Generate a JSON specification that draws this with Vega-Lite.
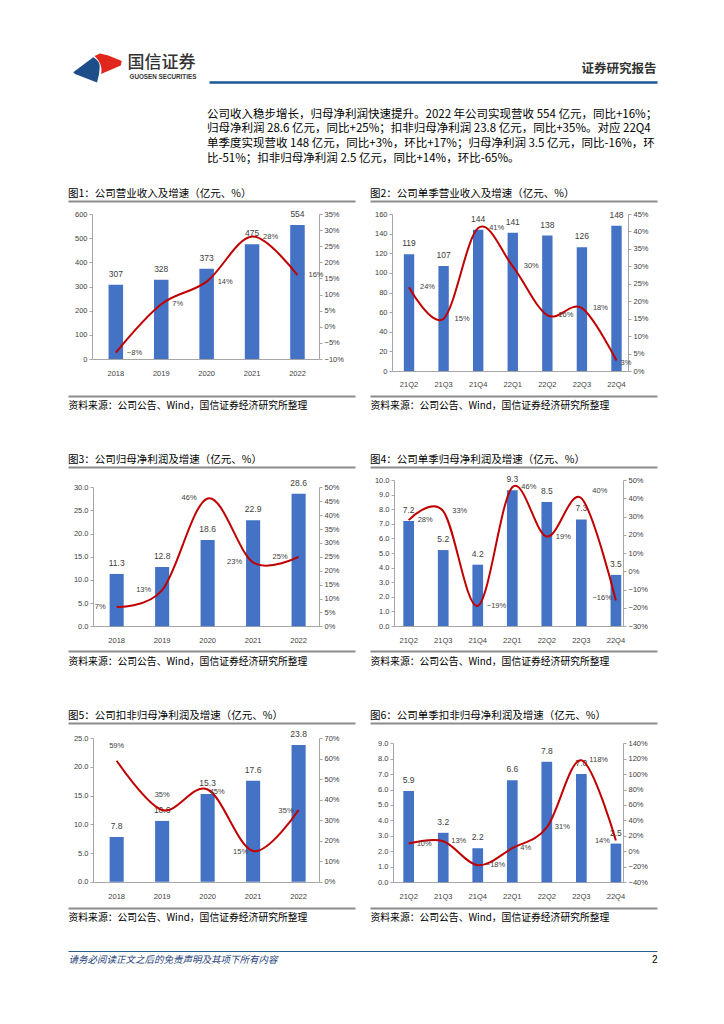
{
  "$schema": "https://vega.github.io/schema/vega-lite/v6.json",
  "padding": {"left": 68, "top": 53, "right": 10, "bottom": 10},
  "background": "white",
  "spacing": 25,
  "config": {
    "view": {"stroke": null},
    "font": "Noto Sans CJK SC",
    "axis": {"labelFont": "Liberation Sans", "labelFontSize": 7.5, "labelColor": "#404040", "domainColor": "#a6a6a6", "tickColor": "#a6a6a6", "tickSize": 3, "labelPadding": 2, "grid": false, "titleFont": "Noto Sans CJK SC", "titleFontWeight": "normal", "titleColor": "#000"},
    "title": {"anchor": "start", "font": "Noto Sans CJK SC", "fontWeight": "normal", "color": "#000", "fontSize": 10.5},
    "text": {"font": "Liberation Sans", "fontSize": 7.5, "color": "#404040"},
    "bar": {"color": "#4472C4"},
    "line": {"color": "#C00000", "strokeWidth": 2, "interpolate": "cardinal"}
  },
  "vconcat": [
    {
      "spacing": 0,
      "hconcat": [
        {
          "width": 59, "height": 30,
          "data": {"values": [{"brand": "国信证券"}]},
          "layer": [
            {"mark": {"type": "point", "shape": "M-0.97,0.17L-0.17,-0.43C0.05,-0.3 0.12,-0.15 0.08,0.05L0.06,0.25L-0.02,0.58L-0.38,0.44L-0.9,0.24Z", "filled": true, "color": "#1d4e89", "size": 2500, "opacity": 1, "strokeWidth": 0},
             "encoding": {"x": {"field": "brand", "type": "nominal", "axis": null}, "y": {"field": "brand", "type": "nominal", "axis": null}}},
            {"mark": {"type": "point", "shape": "M-0.12,-0.48L0.1,-0.58L0.43,-0.5L0.63,-0.42L0.97,-0.28L0.93,-0.1L0.63,0.03L0.3,0.17L0.14,0.24C0.2,0.02 0.14,-0.24 -0.12,-0.48Z", "filled": true, "color": "#e1261c", "size": 2500, "opacity": 1, "strokeWidth": 0},
             "encoding": {"x": {"field": "brand", "type": "nominal", "axis": null}, "y": {"field": "brand", "type": "nominal", "axis": null}}}
          ]
        },
        {
          "width": 448, "height": 29,
          "data": {"values": [{"brand": "国信证券", "report": "证券研究报告"}]},
          "layer": [
            {"mark": {"type": "point", "opacity": 0}, "encoding": {
              "x": {"field": "report", "type": "nominal", "axis": {"orient": "bottom", "domainColor": "#1b5695", "domainWidth": 2.5, "labels": false, "ticks": false, "title": "证券研究报告", "titleX": 447, "titleY": -14, "titleAlign": "right", "titleBaseline": "middle", "titleFontSize": 12.5, "titleFontWeight": "bold", "titleColor": "#333"}},
              "y": {"field": "brand", "type": "nominal", "axis": {"orient": "left", "domain": false, "labels": false, "ticks": false, "title": "国信证券", "titleAngle": 0, "titleX": -82, "titleY": 9, "titleAlign": "left", "titleBaseline": "middle", "titleFontSize": 17, "titleFontWeight": 500, "titleColor": "#333"}}}},
            {"mark": {"type": "point", "opacity": 0}, "encoding": {
              "x": {"field": "report", "type": "nominal", "axis": null},
              "y": {"field": "brand", "type": "nominal", "axis": {"orient": "right", "domain": false, "labels": false, "ticks": false, "title": "GUOSEN SECURITIES", "titleAngle": 0, "titleX": -528, "titleY": 23, "titleAlign": "left", "titleBaseline": "middle", "titleFont": "Liberation Sans", "titleFontSize": 6.3, "titleFontWeight": "bold", "titleColor": "#333"}}}}
          ],
          "resolve": {"axis": {"x": "independent", "y": "independent"}}
        }
      ]
    },
    {
      "spacing": 44,
      "vconcat": [
        {
          "title": {"text": ["公司收入稳步增长，归母净利润快速提升。2022 年公司实现营收 554 亿元，同比+16%；", "归母净利润 28.6 亿元，同比+25%；扣非归母净利润 23.8 亿元，同比+35%。对应 22Q4", "单季度实现营收 148 亿元，同比+3%，环比+17%；归母净利润 3.5 亿元，同比-16%，环", "比-51%；扣非归母净利润 2.5 亿元，同比+14%，环比-65%。"], "fontSize": 11.5, "lineHeight": 14.8, "dx": 139, "offset": 24},
          "spacing": 15,
          "hconcat": [
            {
              "width": 287, "height": 195,
              "title": {"text": "图1：公司营业收入及增速（亿元、%）", "frame": "bounds", "offset": 2},
              "data": {"values": [
                {"q": "2018", "v": 307, "g": -0.08}, {"q": "2019", "v": 328, "g": 0.07}, {"q": "2020", "v": 373, "g": 0.14}, {"q": "2021", "v": 475, "g": 0.28}, {"q": "2022", "v": 554, "g": 0.16}]},
              "layer": [
                {"mark": {"type": "bar"}, "encoding": {
                  "x": {"field": "q", "type": "ordinal", "scale": {"domain": ["2018", "2019", "2020", "2021", "2022"], "paddingInner": 0.68, "paddingOuter": 1.0467, "align": 0.4466},
                    "axis": {"orient": "bottom", "domainColor": "#8c8c8c", "domainWidth": 2, "ticks": false, "labelPadding": -26.5, "labelAngle": 0, "title": "资料来源：公司公告、Wind，国信证券经济研究所整理", "titleAnchor": "start", "titleAlign": "left", "titlePadding": 4, "titleFontSize": 9.8}},
                  "y": {"field": "v", "type": "quantitative", "scale": {"domain": [0, 600], "range": [158, 13], "nice": false},
                    "axis": {"orient": "left", "offset": -24, "values": [0], "grid": true, "gridColor": "#a6a6a6", "gridWidth": 1, "gridDash": [0, 24, 227, 2000], "domain": false, "labels": false, "ticks": false, "title": null}}}},
                {"mark": {"type": "text", "baseline": "alphabetic", "dy": -8, "fontSize": 8.5}, "encoding": {
                  "x": {"field": "q", "type": "ordinal", "scale": {"domain": ["2018", "2019", "2020", "2021", "2022"], "paddingInner": 0.68, "paddingOuter": 1.0467, "align": 0.4466}, "axis": {"orient": "top", "domainColor": "#8c8c8c", "domainWidth": 2, "labels": false, "ticks": false, "title": null}},
                  "y": {"field": "v", "type": "quantitative", "scale": {"domain": [0, 600], "range": [158, 13], "nice": false}, "axis": {"orient": "left", "offset": -24, "values": [0, 100, 200, 300, 400, 500, 600], "format": "d", "title": null}},
                  "text": {"field": "v", "type": "quantitative", "format": "d"}}},
                {"mark": {"type": "line"}, "encoding": {
                  "x": {"field": "q", "type": "ordinal", "scale": {"domain": ["2018", "2019", "2020", "2021", "2022"], "paddingInner": 0.68, "paddingOuter": 1.0467, "align": 0.4466}, "axis": null},
                  "y": {"field": "g", "type": "quantitative", "scale": {"domain": [-0.1, 0.35], "range": [158, 13], "nice": false}, "axis": {"orient": "right", "offset": -36, "values": [-0.1, -0.05, 0, 0.05, 0.1, 0.15, 0.2, 0.25, 0.3, 0.35], "format": ".0%", "title": null}}}},
                {"mark": {"type": "text", "align": "left", "baseline": "middle", "dx": 11}, "encoding": {
                  "x": {"field": "q", "type": "ordinal", "scale": {"domain": ["2018", "2019", "2020", "2021", "2022"], "paddingInner": 0.68, "paddingOuter": 1.0467, "align": 0.4466}, "axis": null},
                  "y": {"field": "g", "type": "quantitative", "scale": {"domain": [-0.1, 0.35], "range": [158, 13], "nice": false}, "axis": null},
                  "text": {"field": "g", "type": "quantitative", "format": ".0%"}}}
              ],
              "resolve": {"scale": {"y": "independent"}, "axis": {"x": "independent", "y": "independent"}}
            },
            {
              "width": 287, "height": 195,
              "title": {"text": "图2：公司单季营业收入及增速（亿元、%）", "frame": "bounds", "offset": 2},
              "data": {"values": [
                {"q": "21Q2", "v": 119, "g": 0.24}, {"q": "21Q3", "v": 107, "g": 0.15}, {"q": "21Q4", "v": 144, "g": 0.41}, {"q": "22Q1", "v": 141, "g": 0.30}, {"q": "22Q2", "v": 138, "g": 0.16}, {"q": "22Q3", "v": 126, "g": 0.18}, {"q": "22Q4", "v": 148, "g": 0.03}]},
              "layer": [
                {"mark": {"type": "bar"}, "encoding": {
                  "x": {"field": "q", "type": "ordinal", "scale": {"domain": ["21Q2", "21Q3", "21Q4", "22Q1", "22Q2", "22Q3", "22Q4"], "paddingInner": 0.7, "paddingOuter": 1.1828, "align": 0.4893},
                    "axis": {"orient": "bottom", "domainColor": "#8c8c8c", "domainWidth": 2, "ticks": false, "labelPadding": -15.5, "labelAngle": 0, "title": "资料来源：公司公告、Wind，国信证券经济研究所整理", "titleAnchor": "start", "titleAlign": "left", "titlePadding": 4, "titleFontSize": 9.8}},
                  "y": {"field": "v", "type": "quantitative", "scale": {"domain": [0, 160], "range": [170, 13], "nice": false},
                    "axis": {"orient": "left", "offset": -22, "values": [0], "grid": true, "gridColor": "#a6a6a6", "gridWidth": 1, "gridDash": [0, 22, 236, 2000], "domain": false, "labels": false, "ticks": false, "title": null}}}},
                {"mark": {"type": "text", "baseline": "alphabetic", "dy": -8, "fontSize": 8.5}, "encoding": {
                  "x": {"field": "q", "type": "ordinal", "scale": {"domain": ["21Q2", "21Q3", "21Q4", "22Q1", "22Q2", "22Q3", "22Q4"], "paddingInner": 0.7, "paddingOuter": 1.1828, "align": 0.4893}, "axis": {"orient": "top", "domainColor": "#8c8c8c", "domainWidth": 2, "labels": false, "ticks": false, "title": null}},
                  "y": {"field": "v", "type": "quantitative", "scale": {"domain": [0, 160], "range": [170, 13], "nice": false}, "axis": {"orient": "left", "offset": -22, "values": [0, 20, 40, 60, 80, 100, 120, 140, 160], "format": "d", "title": null}},
                  "text": {"field": "v", "type": "quantitative", "format": "d"}}},
                {"mark": {"type": "line"}, "encoding": {
                  "x": {"field": "q", "type": "ordinal", "scale": {"domain": ["21Q2", "21Q3", "21Q4", "22Q1", "22Q2", "22Q3", "22Q4"], "paddingInner": 0.7, "paddingOuter": 1.1828, "align": 0.4893}, "axis": null},
                  "y": {"field": "g", "type": "quantitative", "scale": {"domain": [0, 0.45], "range": [170, 13], "nice": false}, "axis": {"orient": "right", "offset": -29, "values": [0, 0.05, 0.1, 0.15, 0.2, 0.25, 0.3, 0.35, 0.4, 0.45], "format": ".0%", "title": null}}}},
                {"transform": [{"filter": "datum.q != '22Q4'"}], "mark": {"type": "text", "align": "left", "baseline": "middle", "dx": 11}, "encoding": {
                  "x": {"field": "q", "type": "ordinal", "scale": {"domain": ["21Q2", "21Q3", "21Q4", "22Q1", "22Q2", "22Q3", "22Q4"], "paddingInner": 0.7, "paddingOuter": 1.1828, "align": 0.4893}, "axis": null},
                  "y": {"field": "g", "type": "quantitative", "scale": {"domain": [0, 0.45], "range": [170, 13], "nice": false}, "axis": null},
                  "text": {"field": "g", "type": "quantitative", "format": ".0%"}}},
                {"transform": [{"filter": "datum.q == '22Q4'"}], "mark": {"type": "text", "align": "left", "baseline": "middle", "dx": 4, "dy": 2}, "encoding": {
                  "x": {"field": "q", "type": "ordinal", "scale": {"domain": ["21Q2", "21Q3", "21Q4", "22Q1", "22Q2", "22Q3", "22Q4"], "paddingInner": 0.7, "paddingOuter": 1.1828, "align": 0.4893}, "axis": null},
                  "y": {"field": "g", "type": "quantitative", "scale": {"domain": [0, 0.45], "range": [170, 13], "nice": false}, "axis": null},
                  "text": {"field": "g", "type": "quantitative", "format": ".0%"}}}
              ],
              "resolve": {"scale": {"y": "independent"}, "axis": {"x": "independent", "y": "independent"}}
            }
          ]
        },
        {
          "spacing": 15,
          "hconcat": [
            {
              "width": 287, "height": 184,
              "title": {"text": "图3：公司归母净利润及增速（亿元、%）", "frame": "bounds", "offset": 2},
              "data": {"values": [
                {"q": "2018", "v": 11.3, "g": 0.07}, {"q": "2019", "v": 12.8, "g": 0.13}, {"q": "2020", "v": 18.6, "g": 0.46}, {"q": "2021", "v": 22.9, "g": 0.23}, {"q": "2022", "v": 28.6, "g": 0.25}]},
              "layer": [
                {"mark": {"type": "bar"}, "encoding": {
                  "x": {"field": "q", "type": "ordinal", "scale": {"domain": ["2018", "2019", "2020", "2021", "2022"], "paddingInner": 0.69, "paddingOuter": 1.0517, "align": 0.4575},
                    "axis": {"orient": "bottom", "domainColor": "#8c8c8c", "domainWidth": 2, "ticks": false, "labelPadding": -14.5, "labelAngle": 0, "title": "资料来源：公司公告、Wind，国信证券经济研究所整理", "titleAnchor": "start", "titleAlign": "left", "titlePadding": 5, "titleFontSize": 9.8}},
                  "y": {"field": "v", "type": "quantitative", "scale": {"domain": [0, 30], "range": [159.3, 20.3], "nice": false},
                    "axis": {"orient": "left", "offset": -25, "values": [0], "grid": true, "gridColor": "#a6a6a6", "gridWidth": 1, "gridDash": [0, 25, 226, 2000], "domain": false, "labels": false, "ticks": false, "title": null}}}},
                {"mark": {"type": "text", "baseline": "alphabetic", "dy": -8, "fontSize": 8.5}, "encoding": {
                  "x": {"field": "q", "type": "ordinal", "scale": {"domain": ["2018", "2019", "2020", "2021", "2022"], "paddingInner": 0.69, "paddingOuter": 1.0517, "align": 0.4575}, "axis": {"orient": "top", "domainColor": "#8c8c8c", "domainWidth": 2, "labels": false, "ticks": false, "title": null}},
                  "y": {"field": "v", "type": "quantitative", "scale": {"domain": [0, 30], "range": [159.3, 20.3], "nice": false}, "axis": {"orient": "left", "offset": -25, "values": [0, 5, 10, 15, 20, 25, 30], "format": ".1f", "title": null}},
                  "text": {"field": "v", "type": "quantitative", "format": ".1f"}}},
                {"mark": {"type": "line"}, "encoding": {
                  "x": {"field": "q", "type": "ordinal", "scale": {"domain": ["2018", "2019", "2020", "2021", "2022"], "paddingInner": 0.69, "paddingOuter": 1.0517, "align": 0.4575}, "axis": null},
                  "y": {"field": "g", "type": "quantitative", "scale": {"domain": [0, 0.5], "range": [159.3, 20.3], "nice": false}, "axis": {"orient": "right", "offset": -36, "values": [0, 0.05, 0.1, 0.15, 0.2, 0.25, 0.3, 0.35, 0.4, 0.45, 0.5], "format": ".0%", "title": null}}}},
                {"mark": {"type": "text", "align": "right", "baseline": "middle", "dx": -11}, "encoding": {
                  "x": {"field": "q", "type": "ordinal", "scale": {"domain": ["2018", "2019", "2020", "2021", "2022"], "paddingInner": 0.69, "paddingOuter": 1.0517, "align": 0.4575}, "axis": null},
                  "y": {"field": "g", "type": "quantitative", "scale": {"domain": [0, 0.5], "range": [159.3, 20.3], "nice": false}, "axis": null},
                  "text": {"field": "g", "type": "quantitative", "format": ".0%"}}}
              ],
              "resolve": {"scale": {"y": "independent"}, "axis": {"x": "independent", "y": "independent"}}
            },
            {
              "width": 287, "height": 184,
              "title": {"text": "图4：公司单季归母净利润及增速（亿元、%）", "frame": "bounds", "offset": 2},
              "data": {"values": [
                {"q": "21Q2", "v": 7.2, "g": 0.28}, {"q": "21Q3", "v": 5.2, "g": 0.33}, {"q": "21Q4", "v": 4.2, "g": -0.19}, {"q": "22Q1", "v": 9.3, "g": 0.46}, {"q": "22Q2", "v": 8.5, "g": 0.19}, {"q": "22Q3", "v": 7.3, "g": 0.40}, {"q": "22Q4", "v": 3.5, "g": -0.16}]},
              "layer": [
                {"mark": {"type": "bar"}, "encoding": {
                  "x": {"field": "q", "type": "ordinal", "scale": {"domain": ["21Q2", "21Q3", "21Q4", "22Q1", "22Q2", "22Q3", "22Q4"], "paddingInner": 0.69, "paddingOuter": 1.3294, "align": 0.4824},
                    "axis": {"orient": "bottom", "domainColor": "#8c8c8c", "domainWidth": 2, "ticks": false, "labelPadding": -14.5, "labelAngle": 0, "title": "资料来源：公司公告、Wind，国信证券经济研究所整理", "titleAnchor": "start", "titleAlign": "left", "titlePadding": 5, "titleFontSize": 9.8}},
                  "y": {"field": "v", "type": "quantitative", "scale": {"domain": [0, 10], "range": [159, 13], "nice": false},
                    "axis": {"orient": "left", "offset": -24, "values": [0], "grid": true, "gridColor": "#a6a6a6", "gridWidth": 1, "gridDash": [0, 24, 229, 2000], "domain": false, "labels": false, "ticks": false, "title": null}}}},
                {"mark": {"type": "text", "baseline": "alphabetic", "dy": -8, "fontSize": 8.5}, "encoding": {
                  "x": {"field": "q", "type": "ordinal", "scale": {"domain": ["21Q2", "21Q3", "21Q4", "22Q1", "22Q2", "22Q3", "22Q4"], "paddingInner": 0.69, "paddingOuter": 1.3294, "align": 0.4824}, "axis": {"orient": "top", "domainColor": "#8c8c8c", "domainWidth": 2, "labels": false, "ticks": false, "title": null}},
                  "y": {"field": "v", "type": "quantitative", "scale": {"domain": [0, 10], "range": [159, 13], "nice": false}, "axis": {"orient": "left", "offset": -24, "values": [0, 1, 2, 3, 4, 5, 6, 7, 8, 9, 10], "format": ".1f", "title": null}},
                  "text": {"field": "v", "type": "quantitative", "format": ".1f"}}},
                {"mark": {"type": "line"}, "encoding": {
                  "x": {"field": "q", "type": "ordinal", "scale": {"domain": ["21Q2", "21Q3", "21Q4", "22Q1", "22Q2", "22Q3", "22Q4"], "paddingInner": 0.69, "paddingOuter": 1.3294, "align": 0.4824}, "axis": null},
                  "y": {"field": "g", "type": "quantitative", "scale": {"domain": [-0.3, 0.5], "range": [159, 13], "nice": false}, "axis": {"orient": "right", "offset": -34, "values": [-0.3, -0.2, -0.1, 0, 0.1, 0.2, 0.3, 0.4, 0.5], "format": ".0%", "title": null}}}},
                {"transform": [{"filter": "datum.q != '22Q3' && datum.q != '22Q4'"}], "mark": {"type": "text", "align": "left", "baseline": "middle", "dx": 9}, "encoding": {
                  "x": {"field": "q", "type": "ordinal", "scale": {"domain": ["21Q2", "21Q3", "21Q4", "22Q1", "22Q2", "22Q3", "22Q4"], "paddingInner": 0.69, "paddingOuter": 1.3294, "align": 0.4824}, "axis": null},
                  "y": {"field": "g", "type": "quantitative", "scale": {"domain": [-0.3, 0.5], "range": [159, 13], "nice": false}, "axis": null},
                  "text": {"field": "g", "type": "quantitative", "format": ".0%"}}},
                {"transform": [{"filter": "datum.q == '22Q3'"}], "mark": {"type": "text", "align": "left", "baseline": "middle", "dx": 11, "dy": -7}, "encoding": {
                  "x": {"field": "q", "type": "ordinal", "scale": {"domain": ["21Q2", "21Q3", "21Q4", "22Q1", "22Q2", "22Q3", "22Q4"], "paddingInner": 0.69, "paddingOuter": 1.3294, "align": 0.4824}, "axis": null},
                  "y": {"field": "g", "type": "quantitative", "scale": {"domain": [-0.3, 0.5], "range": [159, 13], "nice": false}, "axis": null},
                  "text": {"field": "g", "type": "quantitative", "format": ".0%"}}},
                {"transform": [{"filter": "datum.q == '22Q4'"}], "mark": {"type": "text", "align": "right", "baseline": "middle", "dx": -4, "dy": -2}, "encoding": {
                  "x": {"field": "q", "type": "ordinal", "scale": {"domain": ["21Q2", "21Q3", "21Q4", "22Q1", "22Q2", "22Q3", "22Q4"], "paddingInner": 0.69, "paddingOuter": 1.3294, "align": 0.4824}, "axis": null},
                  "y": {"field": "g", "type": "quantitative", "scale": {"domain": [-0.3, 0.5], "range": [159, 13], "nice": false}, "axis": null},
                  "text": {"field": "g", "type": "quantitative", "format": ".0%"}}}
              ],
              "resolve": {"scale": {"y": "independent"}, "axis": {"x": "independent", "y": "independent"}}
            }
          ]
        },
        {
          "spacing": 15,
          "hconcat": [
            {
              "width": 287, "height": 185,
              "title": {"text": "图5：公司扣非归母净利润及增速（亿元、%）", "frame": "bounds", "offset": 2},
              "data": {"values": [
                {"q": "2018", "v": 7.8, "g": 0.59}, {"q": "2019", "v": 10.6, "g": 0.35}, {"q": "2020", "v": 15.3, "g": 0.45}, {"q": "2021", "v": 17.6, "g": 0.15}, {"q": "2022", "v": 23.8, "g": 0.35}]},
              "layer": [
                {"mark": {"type": "bar"}, "encoding": {
                  "x": {"field": "q", "type": "ordinal", "scale": {"domain": ["2018", "2019", "2020", "2021", "2022"], "paddingInner": 0.69, "paddingOuter": 1.0517, "align": 0.4575},
                    "axis": {"orient": "bottom", "domainColor": "#8c8c8c", "domainWidth": 2, "ticks": false, "labelPadding": -16, "labelAngle": 0, "title": "资料来源：公司公告、Wind，国信证券经济研究所整理", "titleAnchor": "start", "titleAlign": "left", "titlePadding": 4, "titleFontSize": 9.8}},
                  "y": {"field": "v", "type": "quantitative", "scale": {"domain": [0, 25], "range": [158.8, 15.2], "nice": false},
                    "axis": {"orient": "left", "offset": -25, "values": [0], "grid": true, "gridColor": "#a6a6a6", "gridWidth": 1, "gridDash": [0, 25, 226, 2000], "domain": false, "labels": false, "ticks": false, "title": null}}}},
                {"mark": {"type": "text", "baseline": "alphabetic", "dy": -8, "fontSize": 8.5}, "encoding": {
                  "x": {"field": "q", "type": "ordinal", "scale": {"domain": ["2018", "2019", "2020", "2021", "2022"], "paddingInner": 0.69, "paddingOuter": 1.0517, "align": 0.4575}, "axis": {"orient": "top", "domainColor": "#8c8c8c", "domainWidth": 2, "labels": false, "ticks": false, "title": null}},
                  "y": {"field": "v", "type": "quantitative", "scale": {"domain": [0, 25], "range": [158.8, 15.2], "nice": false}, "axis": {"orient": "left", "offset": -25, "values": [0, 5, 10, 15, 20, 25], "format": ".1f", "title": null}},
                  "text": {"field": "v", "type": "quantitative", "format": ".1f"}}},
                {"mark": {"type": "line"}, "encoding": {
                  "x": {"field": "q", "type": "ordinal", "scale": {"domain": ["2018", "2019", "2020", "2021", "2022"], "paddingInner": 0.69, "paddingOuter": 1.0517, "align": 0.4575}, "axis": null},
                  "y": {"field": "g", "type": "quantitative", "scale": {"domain": [0, 0.7], "range": [158.8, 15.2], "nice": false}, "axis": {"orient": "right", "offset": -36, "values": [0, 0.1, 0.2, 0.3, 0.4, 0.5, 0.6, 0.7], "format": ".0%", "title": null}}}},
                {"transform": [{"filter": "datum.q == '2018' || datum.q == '2019'"}], "mark": {"type": "text", "align": "center", "baseline": "middle", "dy": -15}, "encoding": {
                  "x": {"field": "q", "type": "ordinal", "scale": {"domain": ["2018", "2019", "2020", "2021", "2022"], "paddingInner": 0.69, "paddingOuter": 1.0517, "align": 0.4575}, "axis": null},
                  "y": {"field": "g", "type": "quantitative", "scale": {"domain": [0, 0.7], "range": [158.8, 15.2], "nice": false}, "axis": null},
                  "text": {"field": "g", "type": "quantitative", "format": ".0%"}}},
                {"transform": [{"filter": "datum.q == '2020'"}], "mark": {"type": "text", "align": "left", "baseline": "middle", "dx": 2, "dy": 3}, "encoding": {
                  "x": {"field": "q", "type": "ordinal", "scale": {"domain": ["2018", "2019", "2020", "2021", "2022"], "paddingInner": 0.69, "paddingOuter": 1.0517, "align": 0.4575}, "axis": null},
                  "y": {"field": "g", "type": "quantitative", "scale": {"domain": [0, 0.7], "range": [158.8, 15.2], "nice": false}, "axis": null},
                  "text": {"field": "g", "type": "quantitative", "format": ".0%"}}},
                {"transform": [{"filter": "datum.q == '2021' || datum.q == '2022'"}], "mark": {"type": "text", "align": "right", "baseline": "middle", "dx": -5, "dy": 1}, "encoding": {
                  "x": {"field": "q", "type": "ordinal", "scale": {"domain": ["2018", "2019", "2020", "2021", "2022"], "paddingInner": 0.69, "paddingOuter": 1.0517, "align": 0.4575}, "axis": null},
                  "y": {"field": "g", "type": "quantitative", "scale": {"domain": [0, 0.7], "range": [158.8, 15.2], "nice": false}, "axis": null},
                  "text": {"field": "g", "type": "quantitative", "format": ".0%"}}}
              ],
              "resolve": {"scale": {"y": "independent"}, "axis": {"x": "independent", "y": "independent"}}
            },
            {
              "width": 287, "height": 185,
              "title": {"text": "图6：公司单季扣非归母净利润及增速（亿元、%）", "frame": "bounds", "offset": 2},
              "data": {"values": [
                {"q": "21Q2", "v": 5.9, "g": 0.10}, {"q": "21Q3", "v": 3.2, "g": 0.13}, {"q": "21Q4", "v": 2.2, "g": -0.18}, {"q": "22Q1", "v": 6.6, "g": 0.04}, {"q": "22Q2", "v": 7.8, "g": 0.31}, {"q": "22Q3", "v": 7.0, "g": 1.18}, {"q": "22Q4", "v": 2.5, "g": 0.14}]},
              "layer": [
                {"mark": {"type": "bar"}, "encoding": {
                  "x": {"field": "q", "type": "ordinal", "scale": {"domain": ["21Q2", "21Q3", "21Q4", "22Q1", "22Q2", "22Q3", "22Q4"], "paddingInner": 0.69, "paddingOuter": 1.3294, "align": 0.4824},
                    "axis": {"orient": "bottom", "domainColor": "#8c8c8c", "domainWidth": 2, "ticks": false, "labelPadding": -16, "labelAngle": 0, "title": "资料来源：公司公告、Wind，国信证券经济研究所整理", "titleAnchor": "start", "titleAlign": "left", "titlePadding": 4, "titleFontSize": 9.8}},
                  "y": {"field": "v", "type": "quantitative", "scale": {"domain": [0, 9], "range": [159.2, 20.2], "nice": false},
                    "axis": {"orient": "left", "offset": -23, "values": [0], "grid": true, "gridColor": "#a6a6a6", "gridWidth": 1, "gridDash": [0, 23, 230, 2000], "domain": false, "labels": false, "ticks": false, "title": null}}}},
                {"mark": {"type": "text", "baseline": "alphabetic", "dy": -8, "fontSize": 8.5}, "encoding": {
                  "x": {"field": "q", "type": "ordinal", "scale": {"domain": ["21Q2", "21Q3", "21Q4", "22Q1", "22Q2", "22Q3", "22Q4"], "paddingInner": 0.69, "paddingOuter": 1.3294, "align": 0.4824}, "axis": {"orient": "top", "domainColor": "#8c8c8c", "domainWidth": 2, "labels": false, "ticks": false, "title": null}},
                  "y": {"field": "v", "type": "quantitative", "scale": {"domain": [0, 9], "range": [159.2, 20.2], "nice": false}, "axis": {"orient": "left", "offset": -23, "values": [0, 1, 2, 3, 4, 5, 6, 7, 8, 9], "format": ".1f", "title": null}},
                  "text": {"field": "v", "type": "quantitative", "format": ".1f"}}},
                {"mark": {"type": "line"}, "encoding": {
                  "x": {"field": "q", "type": "ordinal", "scale": {"domain": ["21Q2", "21Q3", "21Q4", "22Q1", "22Q2", "22Q3", "22Q4"], "paddingInner": 0.69, "paddingOuter": 1.3294, "align": 0.4824}, "axis": null},
                  "y": {"field": "g", "type": "quantitative", "scale": {"domain": [-0.4, 1.4], "range": [159.2, 20.2], "nice": false}, "axis": {"orient": "right", "offset": -34, "values": [-0.4, -0.2, 0, 0.2, 0.4, 0.6, 0.8, 1.0, 1.2, 1.4], "format": ".0%", "title": null}}}},
                {"transform": [{"filter": "datum.q != '22Q4'"}], "mark": {"type": "text", "align": "left", "baseline": "middle", "dx": 8}, "encoding": {
                  "x": {"field": "q", "type": "ordinal", "scale": {"domain": ["21Q2", "21Q3", "21Q4", "22Q1", "22Q2", "22Q3", "22Q4"], "paddingInner": 0.69, "paddingOuter": 1.3294, "align": 0.4824}, "axis": null},
                  "y": {"field": "g", "type": "quantitative", "scale": {"domain": [-0.4, 1.4], "range": [159.2, 20.2], "nice": false}, "axis": null},
                  "text": {"field": "g", "type": "quantitative", "format": ".0%"}}},
                {"transform": [{"filter": "datum.q == '22Q4'"}], "mark": {"type": "text", "align": "right", "baseline": "middle", "dx": -6}, "encoding": {
                  "x": {"field": "q", "type": "ordinal", "scale": {"domain": ["21Q2", "21Q3", "21Q4", "22Q1", "22Q2", "22Q3", "22Q4"], "paddingInner": 0.69, "paddingOuter": 1.3294, "align": 0.4824}, "axis": null},
                  "y": {"field": "g", "type": "quantitative", "scale": {"domain": [-0.4, 1.4], "range": [159.2, 20.2], "nice": false}, "axis": null},
                  "text": {"field": "g", "type": "quantitative", "format": ".0%"}}}
              ],
              "resolve": {"scale": {"y": "independent"}, "axis": {"x": "independent", "y": "independent"}}
            }
          ]
        }
      ]
    },
    {
      "width": 589, "height": 1,
      "data": {"values": [{"page": "2"}]},
      "mark": {"type": "point", "opacity": 0},
      "encoding": {
        "x": {"field": "page", "type": "nominal", "axis": {"orient": "bottom", "domainColor": "#2e5c8a", "domainWidth": 1, "labels": false, "ticks": false, "title": "请务必阅读正文之后的免责声明及其项下所有内容", "titleX": 0, "titleY": 8, "titleAlign": "left", "titleBaseline": "middle", "titleFontStyle": "italic", "titleFontSize": 9.5, "titleColor": "#1f3f7a"}},
        "y": {"field": "page", "type": "nominal", "axis": {"orient": "right", "domain": false, "labels": false, "ticks": false, "title": "2", "titleAngle": 0, "titleX": 0, "titleY": 9, "titleAlign": "right", "titleBaseline": "middle", "titleFont": "Liberation Sans", "titleFontSize": 10, "titleColor": "#000"}}
      }
    }
  ]
}
